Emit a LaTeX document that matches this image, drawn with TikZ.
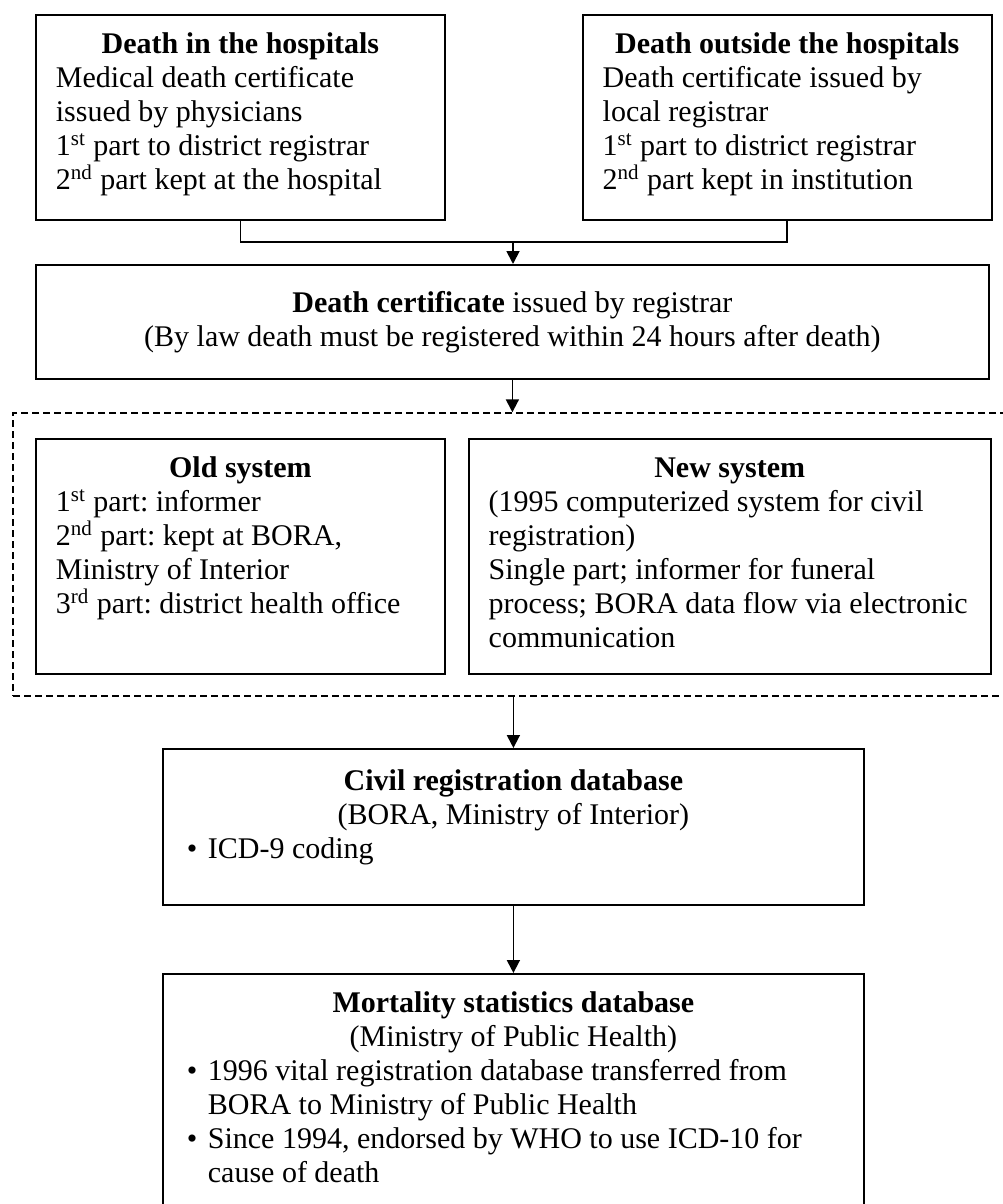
\documentclass[tikz,border=0pt]{standalone}
\usepackage{fontspec}
\setmainfont{Liberation Serif}
\usetikzlibrary{positioning, arrows.meta}
\frenchspacing

\newcommand{\boxhead}[1]{\makebox[\linewidth]{\textbf{#1}}}
\newcommand{\boxmid}[1]{\makebox[\linewidth]{#1}}
\newcommand{\bul}{\makebox[10.5pt][l]{\textbullet}}
\newcommand{\bulcont}{\hspace*{10.5pt}}

\begin{document}
\begin{tikzpicture}[
    x=0.5pt, y=-0.5pt,
    frame/.style={draw, line width=0.9pt, font=\fontsize{15}{17}\selectfont},
    box/.style={frame, align=flush left, inner xsep=10pt, inner ysep=7.5pt,
                text height=12pt, anchor=north west},
    wide/.style={frame, align=center, minimum width=476.5pt, minimum height=57pt,
                 anchor=north west},
    group/.style={draw, dash pattern=on 3.5pt off 2pt, line width=0.7pt,
                  minimum width=499.5pt, minimum height=141.5pt},
    link/.style={line width=0.9pt},
    arr/.style={-{Triangle[length=6.5pt, width=6.5pt]}, line width=0.9pt}
]
\useasboundingbox (0,0) rectangle (1002,1204);

% where the death happens
\node[box, text width=184.5pt, text depth=75.5pt] (hosp) at (35,14)
  {\boxhead{Death in the hospitals}\\
   Medical death certificate\\
   issued by physicians\\
   1\textsuperscript{st} part to district registrar\\
   2\textsuperscript{nd} part kept at the hospital};
\node[box, text width=184.5pt, text depth=75.5pt, right=68pt of hosp] (outside)
  {\boxhead{Death outside the hospitals}\\
   Death certificate issued by\\
   local registrar\\
   1\textsuperscript{st} part to district registrar\\
   2\textsuperscript{nd} part kept in institution};

\node[wide] (cert) at (35,264)
  {\textbf{Death certificate} issued by registrar\\
   (By law death must be registered within 24 hours after death)};

% old and new system
\node[group] (sysgroup) at (512.5,554.5) {};
\node[box, text width=184.5pt, text depth=90.5pt] (oldsys) at (35,438)
  {\boxhead{Old system}\\
   1\textsuperscript{st} part: informer\\
   2\textsuperscript{nd} part: kept at BORA,\\
   Ministry of Interior\\
   3\textsuperscript{rd} part: district health office};
\node[box, text width=241pt, text depth=90.5pt, right=11pt of oldsys] (newsys)
  {\boxhead{New system}\\
   (1995 computerized system for civil\\
   registration)\\
   Single part; informer for funeral\\
   process; BORA data flow via electronic\\
   communication};

% databases
\node[box, inner xsep=12pt, text width=326.5pt, text height=13.5pt, text depth=49.5pt] (civil) at (162,748)
  {\boxhead{Civil registration database}\\
   \boxmid{(BORA, Ministry of Interior)}\\
   \bul ICD-9 coding};
\node[box, inner xsep=12pt, text width=326.5pt, text depth=103pt] (mortality) at (162,973)
  {\boxhead{Mortality statistics database}\\
   \boxmid{(Ministry of Public Health)}\\
   \bul 1996 vital registration database transferred from\\
   \bulcont BORA to Ministry of Public Health\\
   \bul Since 1994, endorsed by WHO to use ICD-10 for\\
   \bulcont cause of death};

\coordinate (join) at (513,242);
\draw[link] (hosp.south) |- (join) -| (outside.south);
\draw[arr] (join) -- (join |- cert.north);
\draw[arr] (cert.south) -- (cert.south |- sysgroup.north);
\draw[arr] (sysgroup.south -| civil.north) -- (civil.north);
\draw[arr] (civil) -- (mortality);
\end{tikzpicture}
\end{document}
